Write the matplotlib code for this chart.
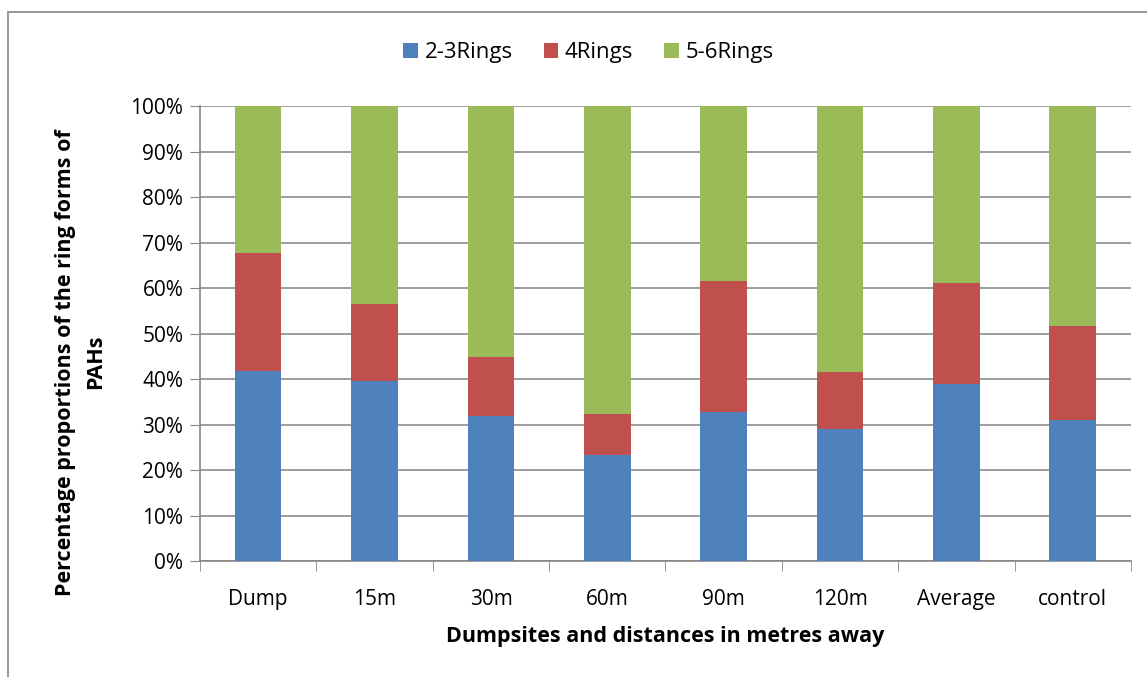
import matplotlib.pyplot as plt
from matplotlib.patches import Rectangle
import numpy as np

sites = ['Dump', '15m', '30m', '60m', '90m', '120m', 'Average', 'control']
# percentage share of each ring group (segments stack to 100)
rings_23 = [41.8, 39.5, 31.8, 23.4, 32.8, 29.0, 38.9, 30.9]
rings_4 = [25.8, 17.0, 13.0, 8.9, 28.8, 12.5, 22.1, 20.8]
rings_56 = [32.4, 43.5, 55.2, 67.7, 38.4, 58.5, 39.0, 48.3]
series_names = ['2-3Rings', '4Rings', '5-6Rings']
colors = ['#4F81BD', '#C0504D', '#9BBB59']

plt.rcParams['font.family'] = ['Open Sans', 'DejaVu Sans']

fig = plt.figure(figsize=(11.47, 6.77), dpi=100)
ax = fig.add_axes([0.1744, 0.1713, 0.8116, 0.6721])

x = np.arange(len(sites))
bottom = np.zeros(len(sites))
for vals, name, c in zip([rings_23, rings_4, rings_56], series_names, colors):
    ax.bar(x, vals, 0.4, bottom=bottom, color=c, label=name, zorder=3)
    bottom += np.array(vals)

ax.set_xlim(-0.5, len(sites) - 0.5)
ax.set_ylim(0, 100)
ax.set_yticks(np.arange(0, 101, 10))
ax.set_yticklabels(['%d%%' % v for v in range(0, 101, 10)], fontsize=15)
ax.set_xticks(x)
ax.set_xticklabels(sites, fontsize=15)
ax.tick_params(axis='x', length=0, pad=20)
ax.tick_params(axis='y', length=7, color='#868686', pad=5)
ax.set_xticks(np.arange(-0.5, len(sites), 1), minor=True)
ax.tick_params(axis='x', which='minor', length=7, color='#868686')
ax.yaxis.grid(True, color='#8c8c8c', linewidth=1.2, zorder=0)
for s in ['top', 'right']:
    ax.spines[s].set_visible(False)
for s in ['left', 'bottom']:
    ax.spines[s].set_color('#868686')
    ax.spines[s].set_linewidth(1.2)

ax.set_xlabel('Dumpsites and distances in metres away', fontsize=15.5, fontweight='bold', labelpad=12)
ax.set_ylabel('Percentage proportions of the ring forms of\nPAHs', fontsize=15.5,
              fontweight='bold', linespacing=1.55)
ax.yaxis.set_label_coords(-0.101, 0.437)

fig.legend(loc='center', bbox_to_anchor=(0.513, 0.922), ncol=3, frameon=False,
           fontsize=16, handlelength=0.65, handleheight=0.65, handletextpad=0.3,
           columnspacing=1.4)

fig.patches.append(Rectangle((8 / 1147, -0.02), 1.2, 1 - 12 / 677 + 0.02,
                             transform=fig.transFigure, fill=False,
                             edgecolor='#868686', linewidth=1.2))

fig.savefig('out.png', dpi=100)
